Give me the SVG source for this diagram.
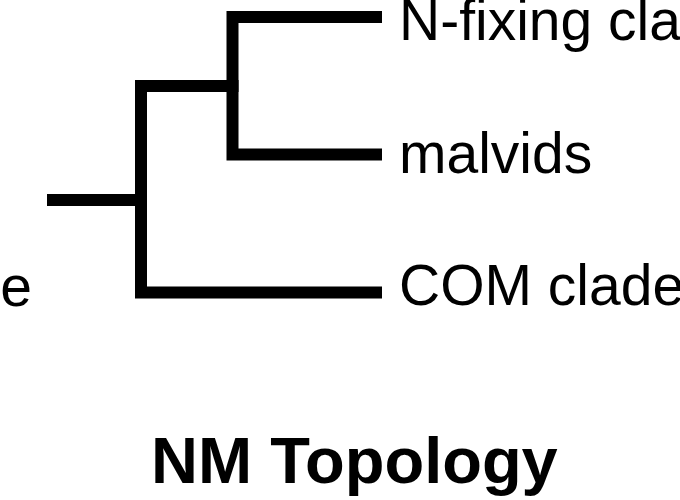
<svg xmlns="http://www.w3.org/2000/svg" width="680" height="500" viewBox="0 0 680 500">
<style>
.br{fill:none;stroke:#000;stroke-width:12;stroke-linecap:square;stroke-linejoin:miter}
.lb{font-family:"Liberation Sans",Arial,sans-serif;font-size:57px;fill:#000}
.tt{font-family:"Liberation Sans",Arial,sans-serif;font-size:65px;font-weight:bold;fill:#000}
</style>
<rect width="680" height="500" fill="#fff"/>
<g id="connectors">
<path class="br" d="M53 200 H141"/>
<path class="br" d="M376 292.5 H141 V86 H232.5"/>
<path class="br" d="M376 17 H232.5 V154.5 H376"/>
</g>
<g id="n-fixing"><text class="lb" x="399" y="40">N-fixing clade</text></g>
<g id="malvids"><text class="lb" x="399" y="173">malvids</text></g>
<g id="com"><text class="lb" x="399" y="305">COM clade</text></g>
<g id="outgroup"><text class="lb" x="32" y="306" text-anchor="end">e</text></g>
<g id="title"><text class="tt" x="151" y="483">NM Topology</text></g>
</svg>
